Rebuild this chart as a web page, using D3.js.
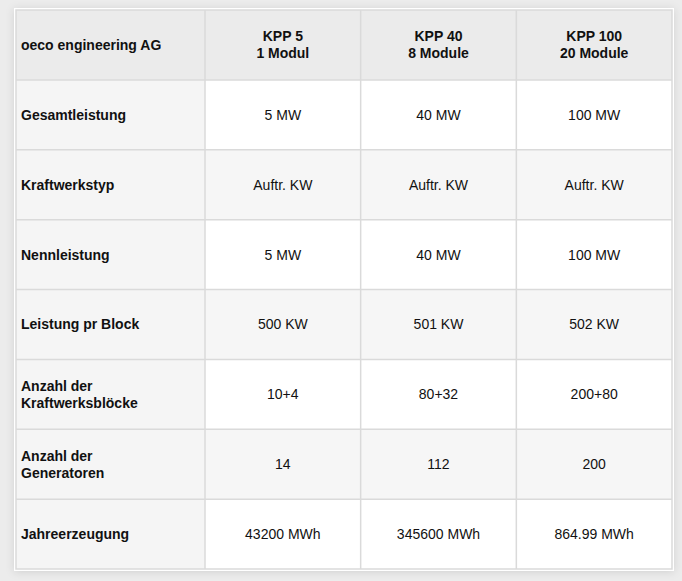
<!DOCTYPE html>
<html>
<head>
<meta charset="utf-8">
<script src="https://cdn.jsdelivr.net/npm/d3@7"></script>
<style>
  html, body { margin: 0; padding: 0; background: #ececec; }
  svg { display: block; }
</style>
</head>
<body>
<div id="table-vis"></div>
<script>
const WIDTH = 682;
const HEIGHT = 581;

// datos de la tabla
const corner = 'oeco engineering AG';
const columns = [['KPP 5', '1 Modul'], ['KPP 40', '8 Module'], ['KPP 100', '20 Module']];
const rowLabels = [
  ['Gesamtleistung'],
  ['Kraftwerkstyp'],
  ['Nennleistung'],
  ['Leistung pr Block'],
  ['Anzahl der', 'Kraftwerksblöcke'],
  ['Anzahl der', 'Generatoren'],
  ['Jahreerzeugung']
];
const kpp5 = ['5 MW', 'Auftr. KW', '5 MW', '500 KW', '10+4', '14', '43200 MWh'];
const kpp40 = ['40 MW', 'Auftr. KW', '40 MW', '501 KW', '80+32', '112', '345600 MWh'];
const kpp100 = ['100 MW', 'Auftr. KW', '100 MW', '502 KW', '200+80', '200', '864.99 MWh'];

const values = [kpp5, kpp40, kpp100];

const SVG = d3.select('#table-vis').append('svg')
    .attr('width', WIDTH).attr('height', HEIGHT);

// sombra de la tarjeta
const defs = SVG.append('defs');
const f = defs.append('filter').attr('id', 'shadow')
    .attr('x', '-5%').attr('y', '-5%').attr('width', '110%').attr('height', '110%');
f.append('feDropShadow').attr('dx', 0).attr('dy', 1).attr('stdDeviation', 4)
    .attr('flood-color', '#000').attr('flood-opacity', 0.12);

const tLeft = 16, tRight = 672, tTop = 10, tBottom = 569, firstColW = 189;

// ESCALAS
const scale_x = d3.scaleBand().domain(d3.range(columns.length)).range([tLeft + firstColW, tRight]);
const scale_y = d3.scaleBand().domain(d3.range(rowLabels.length + 1)).range([tTop, tBottom]);

SVG.append('rect').attr('x', tLeft - 2).attr('y', tTop - 2)
    .attr('width', tRight - tLeft + 4).attr('height', tBottom - tTop + 4)
    .attr('fill', '#fff').attr('filter', 'url(#shadow)');

const font = '"Liberation Sans", Arial, Helvetica, sans-serif';
const rh = scale_y.bandwidth();
const lineH = 17;

function multiline(g, lines, x, cy, anchor, weight) {
  const t = g.append('text').attr('x', x).attr('text-anchor', anchor)
      .attr('font-family', font).attr('font-size', 14).attr('font-weight', weight)
      .attr('fill', '#111');
  const y0 = cy - (lines.length - 1) * lineH / 2 + 5;
  lines.forEach((l, i) => t.append('tspan').attr('x', x).attr('y', y0 + i * lineH).text(l));
}

// fila de cabecera
const header = SVG.append('g').attr('id', 'header');
header.append('rect').attr('x', tLeft).attr('y', scale_y(0))
    .attr('width', tRight - tLeft).attr('height', rh).attr('fill', '#ebebeb');
multiline(header, [corner], tLeft + 5, scale_y(0) + rh / 2, 'start', 'bold');
columns.forEach((c, j) => {
  multiline(header, c, scale_x(j) + scale_x.bandwidth() / 2, scale_y(0) + rh / 2, 'middle', 'bold');
});

// filas de datos
const rows = SVG.selectAll('g.row').data(rowLabels).join('g').attr('class', 'row');
rows.each(function (label, i) {
  const g = d3.select(this);
  const y = scale_y(i + 1);
  g.append('rect').attr('x', tLeft).attr('y', y).attr('width', firstColW).attr('height', rh)
      .attr('fill', '#f5f5f5');
  g.append('rect').attr('x', scale_x(0)).attr('y', y).attr('width', tRight - scale_x(0)).attr('height', rh)
      .attr('fill', i % 2 === 0 ? '#ffffff' : '#f6f6f6');
  multiline(g, label, tLeft + 5, y + rh / 2, 'start', 'bold');
  values.forEach((col, j) => {
    multiline(g, [col[i]], scale_x(j) + scale_x.bandwidth() / 2, y + rh / 2, 'middle', 'normal');
  });
});

// bordes
const grid = SVG.append('g').attr('id', 'grid')
    .attr('stroke', '#dadada').attr('stroke-width', 1.5).attr('fill', 'none');
scale_y.domain().slice(1).forEach(i => {
  grid.append('line').attr('x1', tLeft).attr('x2', tRight).attr('y1', scale_y(i)).attr('y2', scale_y(i));
});
scale_x.domain().forEach(j => {
  grid.append('line').attr('x1', scale_x(j)).attr('x2', scale_x(j)).attr('y1', tTop).attr('y2', tBottom);
});
grid.append('rect').attr('x', tLeft).attr('y', tTop).attr('width', tRight - tLeft).attr('height', tBottom - tTop);
</script>
</body>
</html>
